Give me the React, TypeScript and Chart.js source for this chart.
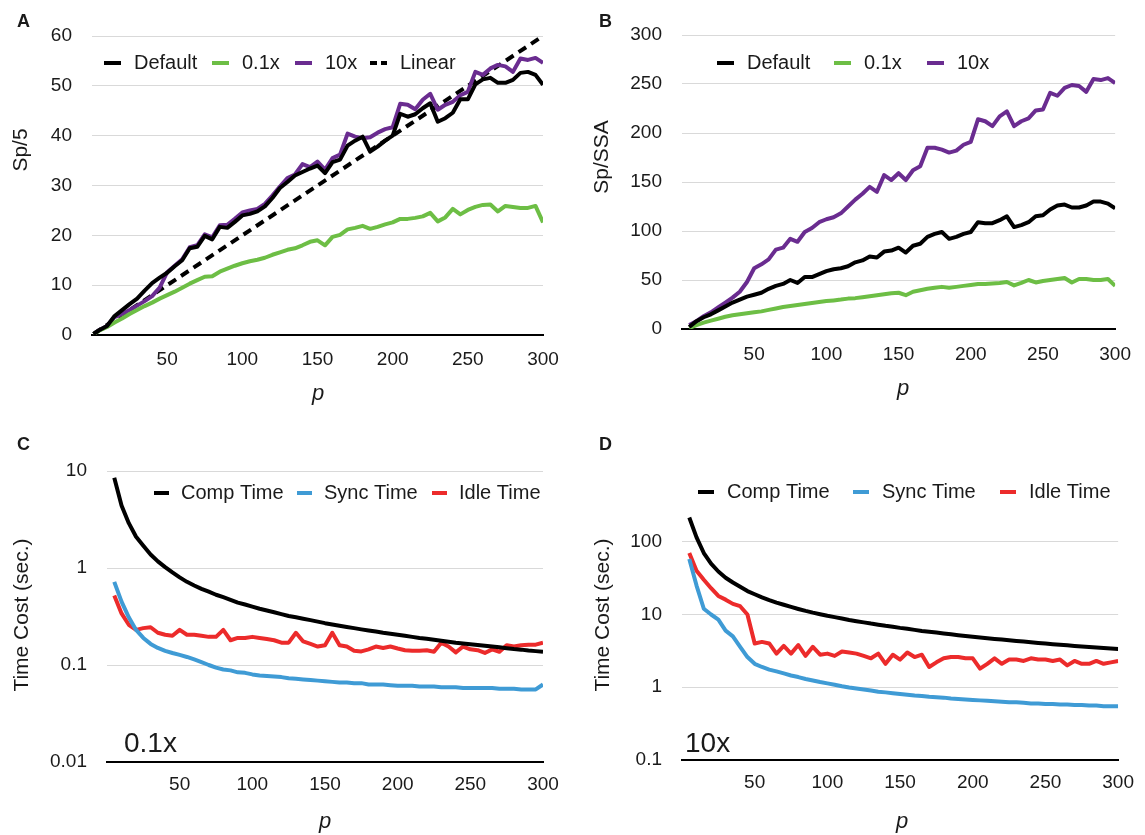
import React, { useEffect, useRef } from "react";
import { Chart, registerables } from "chart.js";

Chart.register(...registerables);

const W = 1145;
const H = 835;
const FF = "'Liberation Sans', Arial, Helvetica, sans-serif";

// ---------- data ----------
const pSteps = [5, 10, 15, 20, 25, 30, 35, 40, 45, 50, 55, 60, 65, 70, 75, 80, 85, 90, 95, 100, 105, 110, 115, 120, 125, 130, 135, 140, 145, 150, 155, 160, 165, 170, 175, 180, 185, 190, 195, 200, 205, 210, 215, 220, 225, 230, 235, 240, 245, 250, 255, 260, 265, 270, 275, 280, 285, 290, 295, 300];
const pA = [1, ...pSteps];

const xTicks = [50, 100, 150, 200, 250, 300];

// Panel A: Sp/5
const defaultA = [0.2, 1.0, 1.8, 3.8, 5.0, 6.2, 7.3, 8.9, 10.4, 11.5, 12.5, 13.8, 15.0, 17.4, 17.7, 19.9, 19.2, 21.7, 21.5, 22.7, 24.0, 24.3, 24.8, 25.8, 27.5, 29.5, 30.7, 32.0, 32.7, 33.4, 34.0, 32.5, 34.7, 35.2, 38.0, 39.0, 39.8, 36.8, 37.8, 39.0, 40.0, 44.4, 43.8, 44.3, 45.5, 46.5, 42.8, 43.5, 44.6, 47.3, 47.3, 50.3, 51.3, 51.6, 50.6, 50.6, 51.2, 52.6, 52.8, 52.2, 50.2];
const greenA = [0.2, 0.9, 1.6, 2.5, 3.3, 4.2, 5.0, 5.8, 6.5, 7.3, 8.0, 8.7, 9.5, 10.3, 11.0, 11.7, 11.8, 12.7, 13.3, 13.9, 14.4, 14.8, 15.1, 15.5, 16.1, 16.6, 17.1, 17.4, 18.0, 18.7, 19.0, 18.0, 19.7, 20.1, 21.2, 21.5, 21.9, 21.3, 21.7, 22.2, 22.6, 23.3, 23.3, 23.5, 23.8, 24.5, 22.8, 23.6, 25.3, 24.2, 25.1, 25.7, 26.1, 26.2, 24.8, 25.9, 25.7, 25.5, 25.5, 25.9, 22.6];
const tenA = [0.2, 1.0, 1.8, 3.6, 4.2, 5.0, 5.9, 6.8, 7.8, 9.5, 12.6, 13.9, 15.2, 17.6, 18.0, 20.2, 19.6, 22.0, 22.1, 23.3, 24.6, 25.0, 25.3, 26.3, 28.0, 29.8, 31.5, 32.2, 34.3, 33.7, 34.8, 33.2, 35.5, 36.2, 40.4, 39.8, 39.5, 39.7, 40.6, 41.3, 41.7, 46.4, 46.2, 45.3, 47.2, 48.4, 45.2, 46.2, 46.8, 48.1, 48.8, 52.8, 52.2, 53.5, 54.2, 53.9, 52.8, 55.5, 55.2, 55.6, 54.6];
const linearP = [1, 300];
const linearA = [0.2, 60];

// Panel B: Sp/SSA
const defaultB = [2, 8, 12, 15, 19, 23, 27, 30, 33, 35, 37, 41, 44, 46, 50, 47, 53, 53, 56, 59, 61, 62, 64, 68, 70, 74, 73, 79, 80, 83, 78, 85, 87, 94, 97, 99, 92, 94, 97, 99, 109, 108, 108, 111, 115, 104, 106, 109, 115, 116, 122, 126, 127, 124, 124, 126, 130, 130, 128, 123];
const greenB = [1, 4, 6.5, 8.5, 10.5, 12.5, 14, 15, 16, 17, 18, 19.5, 21, 22.5, 23.5, 24.5, 25.5, 26.5, 27.5, 28.5, 29.2, 30, 31, 31.5, 32.5, 33.5, 34.5, 35.5, 36.5, 37, 34.5, 38, 39.5, 41, 42, 43, 42, 43, 44, 45, 46, 46, 46.5, 47, 48, 44.5, 47, 50, 47.5, 49, 50, 51, 52, 47.5, 51, 51, 50, 50, 51, 44];
const tenB = [4, 8, 13, 17, 22, 27, 32, 38, 48, 62, 66, 71, 81, 83, 92, 89, 99, 103, 109, 112, 114, 118, 125, 132, 138, 145, 140, 157, 152, 159, 152, 162, 166, 185, 185, 183, 180, 182, 188, 191, 214, 212, 207, 217, 222, 207, 212, 215, 223, 224, 241, 238, 246, 249, 248, 242, 255, 254, 256, 251];

// Panel C: 0.1x time cost
const compC = [8.5, 4.4, 2.9, 2.1, 1.7, 1.38, 1.17, 1.02, 0.9, 0.8, 0.72, 0.66, 0.61, 0.57, 0.53, 0.5, 0.47, 0.44, 0.42, 0.4, 0.38, 0.365, 0.35, 0.335, 0.32, 0.31, 0.3, 0.29, 0.28, 0.27, 0.262, 0.254, 0.247, 0.24, 0.233, 0.227, 0.221, 0.215, 0.21, 0.205, 0.2, 0.195, 0.19, 0.186, 0.182, 0.178, 0.174, 0.17, 0.167, 0.164, 0.161, 0.158, 0.155, 0.152, 0.149, 0.146, 0.144, 0.141, 0.139, 0.137];
const syncC = [0.72, 0.45, 0.31, 0.23, 0.19, 0.165, 0.15, 0.14, 0.133, 0.127, 0.121, 0.114, 0.107, 0.1, 0.094, 0.09, 0.088, 0.084, 0.083, 0.08, 0.078, 0.077, 0.076, 0.075, 0.073, 0.072, 0.071, 0.07, 0.069, 0.068, 0.067, 0.066, 0.066, 0.065, 0.065, 0.063, 0.063, 0.063, 0.062, 0.061, 0.061, 0.061, 0.06, 0.06, 0.06, 0.059, 0.059, 0.059, 0.058, 0.058, 0.058, 0.058, 0.058, 0.057, 0.057, 0.057, 0.056, 0.056, 0.056, 0.063];
const idleC = [0.52, 0.34, 0.26, 0.23, 0.24, 0.245, 0.215, 0.205, 0.2, 0.23, 0.205, 0.205, 0.2, 0.195, 0.195, 0.23, 0.18, 0.19, 0.19, 0.195, 0.19, 0.185, 0.18, 0.17, 0.17, 0.215, 0.175, 0.165, 0.155, 0.16, 0.215, 0.16, 0.155, 0.14, 0.138, 0.145, 0.155, 0.15, 0.155, 0.148, 0.142, 0.14, 0.14, 0.142, 0.137, 0.17, 0.155, 0.135, 0.155, 0.145, 0.142, 0.133, 0.145, 0.137, 0.16, 0.155, 0.16, 0.162, 0.162, 0.17];
const yTicksC = [0.01, 0.1, 1, 10];

// Panel D: 10x time cost
const compD = [215, 115, 70, 50, 39, 32, 27.5, 24, 21, 19, 17.2, 15.8, 14.6, 13.6, 12.7, 11.9, 11.2, 10.6, 10.1, 9.6, 9.2, 8.8, 8.4, 8.1, 7.8, 7.5, 7.25, 7, 6.8, 6.55, 6.35, 6.15, 5.95, 5.8, 5.65, 5.5, 5.35, 5.2, 5.08, 4.95, 4.84, 4.73, 4.62, 4.52, 4.42, 4.33, 4.24, 4.15, 4.07, 3.99, 3.91, 3.84, 3.77, 3.7, 3.64, 3.58, 3.52, 3.46, 3.41, 3.36];
const syncD = [58, 25, 12, 10, 8.5, 6, 5, 3.6, 2.6, 2.1, 1.9, 1.75, 1.65, 1.55, 1.45, 1.38, 1.3, 1.24, 1.18, 1.13, 1.08, 1.03, 0.99, 0.96, 0.93, 0.9, 0.87, 0.85, 0.83, 0.81, 0.79, 0.77, 0.76, 0.74, 0.73, 0.72, 0.7, 0.69, 0.68, 0.67, 0.66, 0.65, 0.64, 0.63, 0.62, 0.62, 0.61, 0.6, 0.6, 0.59, 0.59, 0.58, 0.58, 0.57, 0.57, 0.56, 0.56, 0.55, 0.55, 0.55];
const idleD = [70, 40, 30, 23, 18, 16, 14, 13, 10, 4, 4.2, 4, 2.9, 3.7, 2.9, 3.8, 2.7, 3.6, 2.8, 2.9, 2.7, 3.1, 3, 2.9, 2.7, 2.5, 2.9, 2.1, 2.8, 2.4, 3, 2.6, 2.8, 1.9, 2.2, 2.5, 2.6, 2.6, 2.5, 2.5, 1.8, 2.1, 2.5, 2.1, 2.4, 2.4, 2.3, 2.5, 2.4, 2.4, 2.3, 2.4, 2, 2.3, 2.1, 2.1, 2.3, 2.1, 2.2, 2.3];
const yTicksD = [0.1, 1, 10, 100];

// ---------- styles ----------
const BLACK = "#000000";
const GREEN = "#6dbe45";
const PURPLE = "#6a2c90";
const BLUE = "#3f9bd5";
const RED = "#ec2b2b";
const GRID = "#d9d9d9";
const TXT = "#1a1a1a";
const LW = 4;
const DASH = [9, 6];

const pts = (xs: number[], ys: number[]) => xs.map((x, i) => ({ x, y: ys[i] }));

function line(label: string, color: string, data: { x: number; y: number }[], dash?: number[]) {
  return {
    label,
    data,
    borderColor: color,
    backgroundColor: color,
    borderWidth: LW,
    borderDash: dash || [],
    borderCapStyle: "butt",
    borderJoinStyle: "round",
    pointRadius: 0,
    tension: 0,
    fill: false,
  };
}

type TextItem = { text: string; x: number; y: number; font: string; rotate?: number; align?: CanvasTextAlign; baseline?: CanvasTextBaseline };
type LegendCfg = { y: number; xs: number[]; markerW: number; gap: number; font: string };

function makeExtras(texts: TextItem[], legend: LegendCfg) {
  return {
    id: "extras",
    afterDraw(chart: any) {
      const ctx: CanvasRenderingContext2D = chart.ctx;
      ctx.save();
      texts.forEach((t) => {
        ctx.save();
        ctx.font = t.font;
        ctx.fillStyle = TXT;
        ctx.textAlign = t.align || "left";
        ctx.textBaseline = t.baseline || "alphabetic";
        ctx.translate(t.x, t.y);
        if (t.rotate) ctx.rotate(t.rotate);
        ctx.fillText(t.text, 0, 0);
        ctx.restore();
      });
      chart.data.datasets.forEach((ds: any, i: number) => {
        const x = legend.xs[i];
        ctx.save();
        ctx.strokeStyle = ds.borderColor;
        ctx.lineWidth = LW;
        ctx.lineCap = "butt";
        ctx.setLineDash(ds.borderDash && ds.borderDash.length ? [7, 4] : []);
        ctx.beginPath();
        ctx.moveTo(x, legend.y);
        ctx.lineTo(x + legend.markerW, legend.y);
        ctx.stroke();
        ctx.restore();
        ctx.font = legend.font;
        ctx.fillStyle = TXT;
        ctx.textAlign = "left";
        ctx.textBaseline = "middle";
        ctx.fillText(ds.label, x + legend.markerW + legend.gap, legend.y);
      });
      ctx.restore();
    },
  };
}

const tickFont = { family: FF, size: 19 };
const AXIS_W = 88;
const AXIS_H = 40;

function xScale(pad: number) {
  return {
    type: "linear",
    min: 0,
    max: 300,
    afterBuildTicks: (axis: any) => {
      axis.ticks = [0, ...xTicks].map((v) => ({ value: v }));
    },
    ticks: {
      autoSkip: false,
      maxRotation: 0,
      padding: pad,
      font: tickFont,
      color: TXT,
      callback: (v: any) => (v === 0 ? "" : String(v)),
    },
    grid: { display: false, drawTicks: false },
    border: { display: true, color: "#000", width: 2 },
    afterFit: (s: any) => {
      s.height = AXIS_H;
    },
  };
}

function yLinear(max: number, step: number) {
  return {
    type: "linear",
    min: 0,
    max,
    ticks: { stepSize: step, padding: 20, font: tickFont, color: TXT, autoSkip: false },
    grid: { color: GRID, lineWidth: 1, drawTicks: false },
    border: { display: false },
    afterFit: (s: any) => {
      s.width = AXIS_W;
    },
  };
}

function yLog(min: number, max: number, ticks: number[]) {
  return {
    type: "logarithmic",
    min,
    max,
    afterBuildTicks: (axis: any) => {
      axis.ticks = ticks.map((v) => ({ value: v }));
    },
    ticks: { padding: 20, font: tickFont, color: TXT, autoSkip: false, callback: (v: any) => String(v) },
    grid: { color: GRID, lineWidth: 1, drawTicks: false },
    border: { display: false },
    afterFit: (s: any) => {
      s.width = AXIS_W;
    },
  };
}

function padFor(l: number, t: number, r: number, b: number) {
  return { left: l - AXIS_W, top: t, right: W - r, bottom: H - b - AXIS_H };
}

function baseOptions(padding: any, x: any, y: any) {
  return {
    responsive: false,
    animation: false,
    events: [],
    layout: { padding },
    plugins: { legend: { display: false }, tooltip: { enabled: false }, title: { display: false } },
    scales: { x, y },
  };
}

const rot = -Math.PI / 2;
const legendFont = `20px ${FF}`;

function configA(): any {
  return {
    type: "line",
    data: {
      datasets: [
        line("Default", BLACK, pts(pA, defaultA)),
        line("0.1x", GREEN, pts(pA, greenA)),
        line("10x", PURPLE, pts(pA, tenA)),
        line("Linear", BLACK, pts(linearP, linearA), DASH),
      ],
    },
    options: baseOptions(padFor(92, 36, 543, 335), xScale(13), yLinear(60, 10)),
    plugins: [
      makeExtras(
        [
          { text: "A", x: 17, y: 27, font: `bold 18px ${FF}` },
          { text: "Sp/5", x: 21, y: 150, font: `21px ${FF}`, rotate: rot, align: "center", baseline: "middle" },
          { text: "p", x: 318, y: 400, font: `italic 22px ${FF}`, align: "center" },
        ],
        { y: 63, xs: [104, 212, 295, 370], markerW: 17, gap: 13, font: legendFont }
      ),
    ],
  };
}

function configB(): any {
  return {
    type: "line",
    data: {
      datasets: [
        line("Default", BLACK, pts(pSteps, defaultB)),
        line("0.1x", GREEN, pts(pSteps, greenB)),
        line("10x", PURPLE, pts(pSteps, tenB)),
      ],
    },
    options: baseOptions(padFor(682, 35, 1122, 329), xScale(14), yLinear(300, 50)),
    plugins: [
      makeExtras(
        [
          { text: "B", x: 599, y: 27, font: `bold 18px ${FF}` },
          { text: "Sp/SSA", x: 602, y: 157, font: `21px ${FF}`, rotate: rot, align: "center", baseline: "middle" },
          { text: "p", x: 903, y: 395, font: `italic 22px ${FF}`, align: "center" },
        ],
        { y: 63, xs: [717, 834, 927], markerW: 17, gap: 13, font: legendFont }
      ),
    ],
  };
}

function configC(): any {
  return {
    type: "line",
    data: {
      datasets: [
        line("Comp Time", BLACK, pts(pSteps, compC)),
        line("Sync Time", BLUE, pts(pSteps, syncC)),
        line("Idle Time", RED, pts(pSteps, idleC)),
      ],
    },
    options: baseOptions(padFor(107, 471, 543, 762), xScale(11), yLog(0.01, 10, yTicksC)),
    plugins: [
      makeExtras(
        [
          { text: "C", x: 17, y: 450, font: `bold 18px ${FF}` },
          { text: "Time Cost (sec.)", x: 22, y: 615, font: `21px ${FF}`, rotate: rot, align: "center", baseline: "middle" },
          { text: "p", x: 325, y: 828, font: `italic 22px ${FF}`, align: "center" },
          { text: "0.1x", x: 124, y: 752, font: `28px ${FF}` },
        ],
        { y: 493, xs: [154, 297, 432], markerW: 15, gap: 12, font: legendFont }
      ),
    ],
  };
}

function configD(): any {
  return {
    type: "line",
    data: {
      datasets: [
        line("Comp Time", BLACK, pts(pSteps, compD)),
        line("Sync Time", BLUE, pts(pSteps, syncD)),
        line("Idle Time", RED, pts(pSteps, idleD)),
      ],
    },
    options: baseOptions(padFor(682, 469, 1122, 760), xScale(11), yLog(0.1, 1000, yTicksD)),
    plugins: [
      makeExtras(
        [
          { text: "D", x: 599, y: 450, font: `bold 18px ${FF}` },
          { text: "Time Cost (sec.)", x: 603, y: 615, font: `21px ${FF}`, rotate: rot, align: "center", baseline: "middle" },
          { text: "p", x: 902, y: 828, font: `italic 22px ${FF}`, align: "center" },
          { text: "10x", x: 685, y: 752, font: `28px ${FF}` },
        ],
        { y: 492, xs: [698, 853, 1000], markerW: 16, gap: 13, font: legendFont }
      ),
    ],
  };
}

export default function App() {
  const r1 = useRef<HTMLCanvasElement>(null);
  const r2 = useRef<HTMLCanvasElement>(null);
  const r3 = useRef<HTMLCanvasElement>(null);
  const r4 = useRef<HTMLCanvasElement>(null);

  useEffect(() => {
    const refs = [r1, r2, r3, r4];
    const cfgs = [configA, configB, configC, configD];
    const charts = refs.map((r, i) => new Chart(r.current as HTMLCanvasElement, cfgs[i]()));
    return () => charts.forEach((c) => c.destroy());
  }, []);

  const cs: React.CSSProperties = { position: "absolute", left: 0, top: 0, width: W, height: H };
  return (
    <div style={{ position: "absolute", left: 0, top: 0, width: W, height: H, background: "#ffffff", overflow: "hidden" }}>
      <canvas ref={r1} width={W} height={H} style={cs} />
      <canvas ref={r2} width={W} height={H} style={cs} />
      <canvas ref={r3} width={W} height={H} style={cs} />
      <canvas ref={r4} width={W} height={H} style={cs} />
    </div>
  );
}
